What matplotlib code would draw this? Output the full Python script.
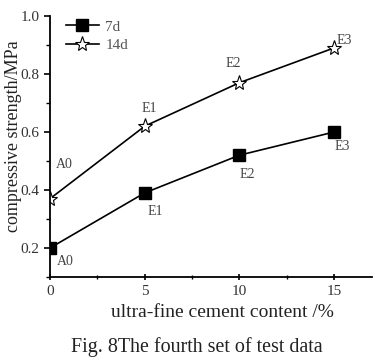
import matplotlib
matplotlib.use("Agg")
import matplotlib.pyplot as plt
from matplotlib.ticker import MultipleLocator

plt.rcParams['font.family'] = ['Liberation Serif', 'DejaVu Serif']

content = [0, 5, 10, 15]
s7d = [0.20, 0.39, 0.52, 0.60]
s14d = [0.37, 0.62, 0.77, 0.89]
labels = ["A0", "E1", "E2", "E3"]

fig = plt.figure(figsize=(3.75, 3.64), dpi=100)
ax = fig.add_axes([50/375, 87/364, 322/375, 261/364])

ax.plot(content, s7d, '-', color='black', lw=1.2, marker='s', ms=8,
        mfc='black', mec='black', label='7d')
ax.plot(content, s14d, '-', color='black', lw=1.2, marker='*', ms=11,
        mfc='white', mec='black', mew=0.8, label='14d')

ax.set_xlim(0, 17)
ax.set_ylim(0.1, 1.0)
ax.xaxis.set_major_locator(MultipleLocator(5))
ax.xaxis.set_minor_locator(MultipleLocator(2.5))
ax.yaxis.set_major_locator(MultipleLocator(0.2))
ax.yaxis.set_minor_locator(MultipleLocator(0.1))
ax.set_yticks([0.2, 0.4, 0.6, 0.8, 1.0])
ax.set_yticklabels(["0.2", "0.4", "0.6", "0.8", "1.0"])
ax.spines['top'].set_visible(False)
ax.spines['right'].set_visible(False)
ax.spines['left'].set_linewidth(1.3)
ax.spines['bottom'].set_linewidth(1.3)
ax.tick_params(axis='both', which='major', labelsize=11, color='black',
               labelcolor='#333333', width=1.2, length=4)
ax.tick_params(axis='both', which='minor', width=1.0, length=3)
ax.tick_params(axis='x', which='both', direction='inout')
ax.tick_params(axis='y', which='both', direction='out')

ax.set_xlabel("ultra-fine cement content /%", fontsize=14, color='#222222')
ax.xaxis.set_label_coords(0.537, -0.105)
ax.set_ylabel("compressive strength/MPa", fontsize=13, color='#222222')
ax.yaxis.set_label_coords(-0.088, 0.54)

tc = '#444444'
fs = 10
# 14d labels
off14 = [(4, 20), (-2, 8), (-10, 9), (2, 1)]
for x, y, t, o in zip(content, s14d, labels, off14):
    ax.annotate(t, (x, y), xytext=o, textcoords='offset points', fontsize=fs,
                color=tc, ha='left', va='bottom')
# 7d labels
off7 = [(5, -5), (2, -9), (0, -9), (0, -6)]
for x, y, t, o in zip(content, s7d, labels, off7):
    ax.annotate(t, (x, y), xytext=o, textcoords='offset points', fontsize=fs,
                color=tc, ha='left', va='top')

leg = ax.legend(loc='upper left', bbox_to_anchor=(0.02, 1.02), frameon=False,
                fontsize=11, handlelength=2.2, handletextpad=0.4,
                labelspacing=0.3, borderaxespad=0.2)
for t in leg.get_texts():
    t.set_color('#555555')

fig.text(0.525, 0.02, "Fig. 8The fourth set of test data", ha='center',
         va='bottom', fontsize=14.4, color='#222222')

fig.savefig("out.png", dpi=100)
